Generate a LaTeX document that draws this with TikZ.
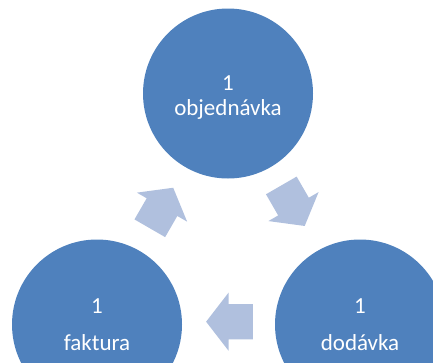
\documentclass[tikz,border=0pt]{standalone}
\usepackage{fontspec}
\setmainfont{Carlito}
\usetikzlibrary{calc}
\definecolor{kruhmodra}{HTML}{4F81BD}
\definecolor{sipkamodra}{HTML}{B0C0DE}
\tikzset{
  krok/.style={circle, fill=kruhmodra, text=white, minimum size=170pt, inner sep=0pt,
    align=center, font=\fontsize{23}{25}\selectfont},
  pics/blokovasipka/.style={code={
    \fill[sipkamodra] (-23.4,-17.7) -- (1,-17.7) -- (1,-29) -- (23.4,0)
      -- (1,29) -- (1,17.7) -- (-23.4,17.7) -- cycle;}}
}

\begin{document}
\begin{tikzpicture}[x=1pt,y=-1pt]
  \useasboundingbox (0,0) rectangle (433,362);
  \clip (0,0) rectangle (433,362);

  % kruhy
  \node[krok] (objednavka) at (228,93.5) {\rule{0pt}{23pt}1\\objednávka};
  \node[krok] (faktura) at (97,324.5) {1\\[11.7pt]faktura};
  \node[krok] (dodavka) at (360,324.5) {1\\[11.7pt]dodávka};

  % sipky mezi kruhy
  \coordinate (od) at (293,205.7);
  \coordinate (df) at (229.5,321.7);
  \coordinate (fo) at (161.5,208);
  \pic[rotate=-60] at (od) {blokovasipka};
  \pic[rotate=180] at (df) {blokovasipka};
  \pic[rotate=60] at (fo) {blokovasipka};
\end{tikzpicture}
\end{document}
